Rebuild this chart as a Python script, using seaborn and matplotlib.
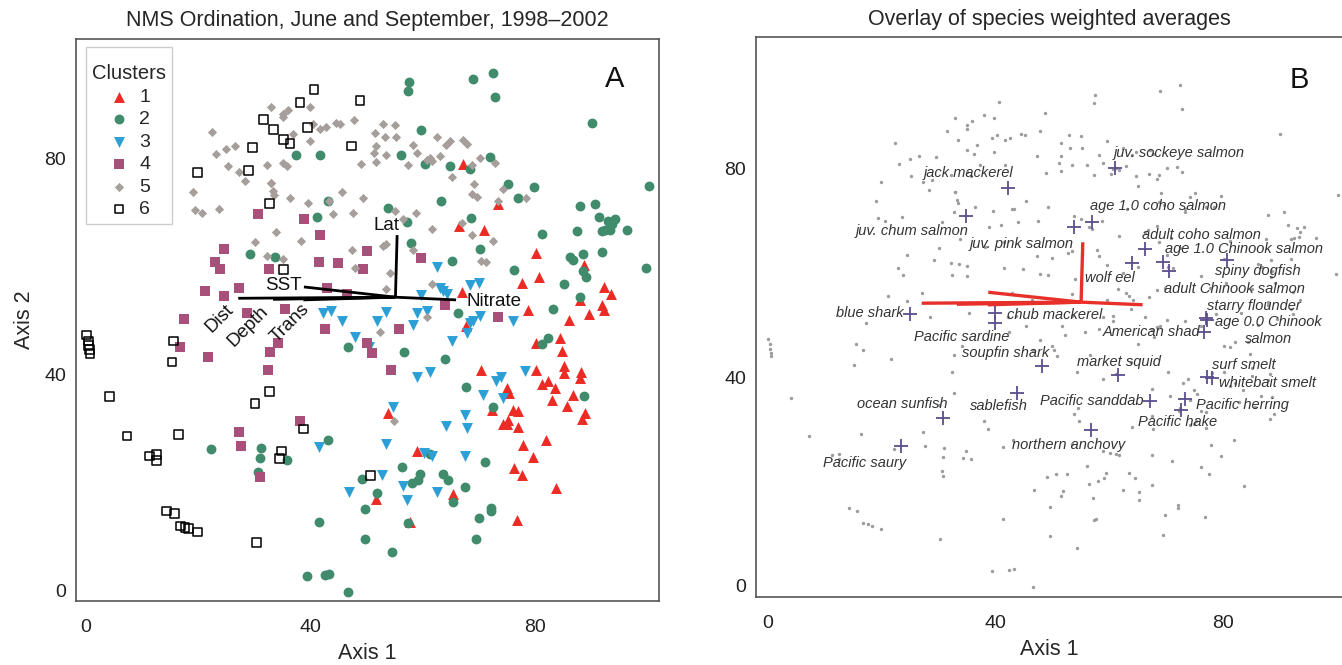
import numpy as np
import pandas as pd
import matplotlib
matplotlib.use("Agg")
import matplotlib.pyplot as plt
from matplotlib.offsetbox import DrawingArea, VPacker
import seaborn as sns

# ---------------- data ----------------
c1_x = [67.1, 66.4, 67.0, 73.4, 70.9, 80.2, 88.6, 80.6, 77.7, 92.3, 93.5, 87.9, 91.9, 92.3, 78.8, 89.5, 86.1,
        53.8, 58.9, 51.6, 65.3, 57.7, 67.6, 84.4, 84.7, 80.2, 70.3, 80.2, 85.2, 85.2, 88.2, 88.0, 75.0, 75.4,
        81.2, 82.2, 83.5, 86.7, 82.9, 85.6, 76.1, 77.0, 72.3, 74.2, 75.2, 74.9, 77.0, 88.9, 88.3, 77.9, 81.9,
        79.6, 76.2, 77.6, 83.7, 76.8]
c1_y = [79.0, 67.6, 55.4, 71.7, 66.8, 62.6, 60.4, 58.1, 57.1, 56.3, 54.9, 53.8, 53.0, 52.1, 52.1, 51.2, 50.1,
        32.9, 25.9, 17.1, 17.9, 12.8, 49.0, 46.8, 44.4, 45.9, 41.0, 41.0, 41.7, 40.3, 40.6, 39.4, 37.5, 36.7,
        38.3, 38.9, 37.6, 36.3, 35.3, 34.2, 33.5, 33.4, 33.5, 30.9, 31.6, 31.0, 30.3, 33.0, 31.9, 27.0, 27.9,
        24.8, 22.8, 21.4, 19.1, 13.2]

c2_x = [29.2, 33.6, 57.6, 57.3, 59.6, 37.4, 41.7, 56.1, 60.3, 64.8, 63.2, 43.0, 41.1, 53.8, 57.1, 57.9, 65.1, 66.3,
        69.0, 72.4, 72.9, 90.1, 72.0, 68.4, 75.1, 79.7, 77.0, 100.2, 87.9, 90.7, 91.4, 93.0, 94.2, 93.6, 93.3,
        92.5, 91.9, 96.3, 87.5, 81.2, 68.5, 70.2, 91.9, 88.5, 86.2, 86.8, 88.5, 89.1, 99.8, 76.2, 85.2, 87.9, 83.1,
        22.2, 31.1, 30.9, 30.6,
        46.6, 56.7, 63.9, 67.6, 43.1, 35.8, 61.3, 56.2, 59.5, 59.2, 58.0, 63.6, 64.5, 49.1, 67.5, 51.9, 65.3,
        49.7, 57.4, 41.4, 49.7, 54.4, 39.4, 42.5, 43.3, 46.7,
        82.2, 81.2, 88.6, 72.4, 71.1, 72.1, 72.1, 69.9, 69.4]
c2_y = [62.4, 61.8, 94.2, 92.6, 85.4, 80.7, 80.7, 80.7, 79.0, 78.7, 72.2, 72.3, 69.2, 71.0, 68.4, 64.5, 61.1, 51.5,
        94.9, 96.0, 91.4, 86.7, 80.4, 78.1, 75.3, 74.8, 72.7, 75.0, 71.2, 71.7, 69.3, 68.6, 68.8, 67.9, 66.9,
        66.8, 66.6, 66.8, 66.6, 66.1, 69.1, 63.4, 62.7, 62.4, 61.8, 61.2, 59.2, 58.1, 59.8, 59.5, 56.9, 54.4, 52.3,
        26.2, 26.4, 24.7, 22.0,
        45.2, 44.2, 42.9, 37.8, 27.9, 24.2, 25.3, 22.9, 21.6, 20.6, 20.0, 21.6, 20.6, 20.8, 19.3, 18.1, 16.5,
        15.1, 12.6, 12.8, 9.6, 7.2, 2.7, 2.9, 3.1, -0.2,
        46.8, 45.7, 36.1, 34.0, 23.9, 15.4, 14.8, 13.5, 9.7]

c3_x = [62.5, 63.0, 63.6, 64.2, 59.7, 42.2, 43.7, 45.5, 53.5, 51.8, 58.9, 60.7, 58.3,
        68.4, 69.9, 70.2, 69.0, 68.4, 76.1,
        47.9, 50.4, 65.1, 58.9, 61.2, 54.6, 64.1, 67.5, 67.8, 41.4, 53.5, 60.1, 61.7, 67.5, 52.7, 46.9, 56.4,
        57.2, 62.5,
        67.9, 78.1, 73.9, 73.0, 70.7, 74.2]
c3_y = [60.0, 56.1, 55.5, 54.9, 54.8, 51.5, 51.8, 49.9, 51.7, 49.9, 51.5, 51.8, 49.3,
        56.7, 57.1, 50.9, 49.9, 49.6, 49.9,
        47.1, 45.2, 46.3, 39.7, 40.6, 34.0, 30.5, 32.6, 30.1, 26.6, 27.2, 25.5, 25.0, 25.0, 21.4, 18.3, 19.4,
        16.9, 18.3,
        47.7, 40.8, 39.7, 38.9, 36.3, 35.7]

c4_x = [30.7, 24.5, 22.9, 23.8, 32.5, 27.2, 21.1, 24.5, 17.4, 28.6,
        38.9, 41.6, 41.5, 44.9, 50.0, 49.3, 59.7, 42.9, 46.4, 35.4, 63.9, 73.3,
        16.8, 21.7, 32.7, 32.4, 27.3, 27.6, 30.9,
        42.5, 34.2, 50.0, 50.9, 55.8, 54.3, 38.1]
c4_y = [69.8, 63.4, 60.9, 59.6, 59.7, 56.1, 55.5, 54.6, 50.4, 51.5,
        68.8, 66.0, 60.9, 60.8, 62.9, 59.7, 61.6, 56.1, 54.9, 52.3, 53.0, 50.7,
        45.2, 43.4, 44.3, 41.0, 29.4, 26.8, 21.1,
        48.6, 45.9, 46.0, 44.0, 48.6, 41.0, 31.5]

c5_x = [22.4, 23.2, 25.0, 26.6, 25.2, 27.3, 28.3, 32.3, 32.9, 19.1, 19.4, 20.6, 23.6, 30.1, 32.2,
        32.9, 35.1, 35.9, 39.8, 35.0, 40.4, 41.7, 42.7, 44.5, 45.2, 47.8, 36.8, 39.8, 51.5, 52.9, 55.0,
        53.2, 55.2, 51.6, 51.3, 53.5, 58.2, 58.9, 62.5, 64.8, 64.1, 61.3, 60.7, 61.7, 63.0, 67.2, 65.1,
        48.9, 51.6, 57.4, 35.1, 35.7, 32.9, 33.3, 33.5, 36.4, 39.6, 45.5, 43.3, 49.3, 44.0, 47.6, 55.0,
        56.5, 58.8, 61.7, 33.9, 38.2, 47.3, 52.8, 53.5, 58.2, 47.9, 54.1, 53.5, 61.6, 35.1, 60.7,
        67.8, 70.1, 72.8, 68.7, 69.1, 68.7, 69.6, 74.3, 78.4, 73.4, 66.9, 68.7, 72.5, 70.3, 71.2,
        52.3, 54.8]
c5_y = [85.0, 81.0, 81.9, 82.4, 78.7, 77.5, 75.9, 78.8, 75.5, 73.9, 70.5, 70.0, 70.8, 64.7, 62.0,
        89.7, 88.4, 89.1, 89.7, 87.7, 86.5, 85.5, 85.9, 86.7, 86.5, 87.3, 84.6, 83.3, 84.9, 86.4, 86.3,
        84.0, 84.0, 82.4, 81.2, 80.7, 82.6, 81.2, 84.0, 83.3, 82.6, 80.2, 79.9, 79.7, 80.5, 83.6, 76.7,
        79.1, 79.5, 78.9, 79.3, 78.7, 75.6, 74.1, 73.4, 72.7, 71.9, 73.9, 72.2, 72.7, 69.8, 70.0, 70.3,
        68.9, 70.0, 67.1, 66.5, 64.9, 63.2, 63.9, 64.3, 63.2, 59.8, 58.9, 56.0, 56.9, 61.4, 50.8,
        82.8, 80.1, 79.3, 78.9, 75.4, 73.6, 73.0, 74.5, 72.7, 72.2, 68.2, 65.9, 64.8, 61.1, 60.9,
        48.0, 31.5]

c6_x = [31.6, 33.4, 29.7, 19.9, 28.9, 32.7,
        40.6, 38.1, 48.8, 39.5, 35.1, 36.3, 47.3, 35.1,
        0.1, 0.4, 0.4, 0.6, 0.7, 15.6, 15.3, 4.1, 7.3, 16.5, 11.3, 12.6, 12.6, 14.3, 15.8, 16.8, 17.6, 18.3,
        19.9, 30.4, 32.7, 30.1,
        38.7, 34.8, 34.4, 50.7]
c6_y = [87.3, 85.5, 82.2, 77.5, 77.8, 71.7,
        92.9, 90.4, 90.8, 85.9, 83.6, 82.8, 82.4, 59.5,
        47.4, 46.3, 45.5, 44.7, 44.0, 46.3, 42.4, 36.0, 28.7, 29.0, 25.0, 25.2, 24.2, 14.8, 14.3, 12.0, 11.8, 11.5,
        10.9, 8.9, 37.0, 34.7,
        30.0, 25.9, 24.5, 21.4]

cluster_labels = ["1", "2", "3", "4", "5", "6"]

# environmental vectors (joint plot): origin and tips
vec_origin = (55.1, 54.4)
vec_names = ["Lat", "SST", "Dist", "Depth", "Trans", "Nitrate"]
vec_x = [55.4, 38.8, 27.1, 33.3, 38.7, 65.9]
vec_y = [65.9, 56.3, 54.2, 54.0, 53.9, 53.9]

# species weighted averages (panel B)
species = ["juv. sockeye salmon", "jack mackerel", "juv. chum salmon", "age 1.0 coho salmon",
           "juv. pink salmon", "adult coho salmon", "age 1.0 Chinook salmon", "spiny dogfish",
           "wolf eel", "adult Chinook salmon", "starry flounder", "age 0.0 Chinook\nsalmon",
           "blue shark", "chub mackerel", "Pacific sardine", "American shad", "soupfin shark",
           "market squid", "surf smelt", "whitebait smelt", "sablefish", "ocean sunfish",
           "Pacific sanddab", "Pacific herring", "Pacific hake", "northern anchovy", "Pacific saury"]
sp_x = [61.1, 42.2, 34.8, 57.0, 53.8, 66.4, 69.5, 80.7, 64.1, 70.5, 77.0, 77.3, 25.1, 39.9, 39.9,
        76.7, 48.2, 61.6, 77.3, 78.1, 43.8, 30.9, 67.2, 73.3, 72.6, 56.9, 23.4]
sp_y = [80.1, 76.3, 71.0, 69.7, 68.9, 64.6, 62.2, 62.5, 62.0, 60.3, 51.3, 50.9, 52.1, 52.4, 50.4,
        48.6, 42.2, 40.4, 40.1, 39.8, 36.9, 32.1, 35.5, 35.8, 33.7, 29.9, 26.7]
# label anchor positions
lab_x = [60.8, 35.4, 25.5, 56.7, 53.8, 65.8, 69.9, 78.7, 64.6, 69.6, 77.3, 78.7, 23.9, 42.1, 34.2,
         76.1, 41.9, 61.7, 78.1, 79.3, 40.6, 23.6, 66.1, 75.2, 72.1, 52.9, 17.0]
lab_y = [83.1, 79.2, 68.1, 72.9, 65.6, 67.3, 64.6, 60.3, 59.0, 56.9, 53.6, 48.9, 52.3, 52.0, 47.8,
         48.6, 44.7, 43.0, 42.4, 38.8, 34.5, 34.9, 35.5, 34.7, 31.3, 27.0, 23.6]
lab_ha = ["left", "center", "center", "left", "right", "left", "left", "left", "right", "left", "left",
          "left", "right", "left", "center", "right", "center", "center", "left", "left", "center",
          "center", "right", "left", "center", "center", "center"]

ticks = [0, 20, 40, 60, 80, 100]
tick_labels = ["0", "", "40", "", "80", ""]

# ---------------- styling ----------------
sns.set_theme(style="white")
plt.rcParams["font.family"] = ["Liberation Sans", "DejaVu Sans"]

colors = {"1": "#ec2b25", "2": "#3f8b6c", "3": "#2b9fd6", "4": "#a85079", "5": "#a69e9b", "6": "black"}
markers = {"1": "^", "2": "o", "3": "v", "4": "s", "5": "D", "6": "s"}
sizes = {"1": 62, "2": 50, "3": 62, "4": 46, "5": 22, "6": 40}

xs = [c1_x, c2_x, c3_x, c4_x, c5_x, c6_x]
ys = [c1_y, c2_y, c3_y, c4_y, c5_y, c6_y]
df = pd.concat([pd.DataFrame({"x": x, "y": y, "cluster": c}) for x, y, c in zip(xs, ys, cluster_labels)],
               ignore_index=True)

fig = plt.figure(figsize=(13.42, 6.65), dpi=100)
axA = fig.add_axes([76 / 1342, 1 - 601.4 / 665, (659.3 - 76) / 1342, (601.4 - 38.6) / 665])
axB = fig.add_axes([756 / 1342, 1 - 597 / 665, (1343 - 756) / 1342, (597 - 37) / 665])

spine_col = "#555555"
for ax in (axA, axB):
    for s in ax.spines.values():
        s.set_color(spine_col)
        s.set_linewidth(1.2)
    ax.set_xticks(ticks)
    ax.set_yticks(ticks)
    ax.set_xticklabels(tick_labels)
    ax.set_yticklabels(tick_labels)
    ax.tick_params(axis="both", direction="out", length=4, width=1, color=spine_col,
                   labelsize=14, labelcolor="#222222")
    ax.tick_params(axis="x", pad=9)
    ax.tick_params(axis="y", pad=3)

# ---------------- Panel A ----------------
for c in cluster_labels:
    sub = df[df["cluster"] == c]
    if c == "6":
        sns.scatterplot(data=sub, x="x", y="y", ax=axA, marker="s", s=sizes[c], color="black",
                        linewidth=1.1, label=c, zorder=3)
        axA.collections[-1].set_facecolor("none")
        axA.collections[-1].set_edgecolor("black")
    else:
        sns.scatterplot(data=sub, x="x", y="y", ax=axA, marker=markers[c], s=sizes[c],
                        color=colors[c], linewidth=0, label=c, zorder=3)

for name, vx, vy in zip(vec_names, vec_x, vec_y):
    axA.plot([vec_origin[0], vx], [vec_origin[1], vy], color="black", lw=2.0, zorder=4,
             solid_capstyle="butt")

txt_kw = dict(fontsize=13.5, color="#111111", zorder=5)
axA.text(53.5, 67.6, "Lat", ha="center", va="center", **txt_kw)
axA.text(35.1, 56.6, "SST", ha="center", va="center", **txt_kw)
axA.text(67.7, 53.6, "Nitrate", ha="left", va="center", **txt_kw)
axA.text(23.8, 50.5, "Dist", ha="center", va="center", rotation=45, **txt_kw)
axA.text(28.9, 49.0, "Depth", ha="center", va="center", rotation=45, **txt_kw)
axA.text(36.3, 49.6, "Trans", ha="center", va="center", rotation=45, **txt_kw)
axA.text(94.2, 94.8, "A", ha="center", va="center", fontsize=21, color="#111111")

axA.set_xlim(-1.8, 102.1)
axA.set_ylim(-1.95, 102.3)
axA.set_xlabel("Axis 1", fontsize=15.5, labelpad=5)
axA.set_ylabel("Axis 2", fontsize=15.5, labelpad=7)
axA.set_title("NMS Ordination, June and September, 1998\u20132002", fontsize=15.5, pad=9)

leg = axA.legend(title="Clusters", loc="upper left", bbox_to_anchor=(10 / 583.3, 1 - 8.7 / 562.8),
                 borderaxespad=0, fontsize=14, title_fontsize=14.5, frameon=True, fancybox=False,
                 edgecolor="#cccccc", framealpha=1, alignment="center", borderpad=0.3,
                 handlelength=1.2, handletextpad=0.45, labelspacing=0.25)
leg.get_frame().set_linewidth(1.0)
# a little extra room above the legend title, as in the reference
try:
    spacer = DrawingArea(1, 8)
    leg._legend_box._children[0] = VPacker(children=[spacer, leg._legend_title_box],
                                           pad=0, sep=0, align="center")
except Exception:
    pass

# ---------------- Panel B ----------------
sns.scatterplot(data=df, x="x", y="y", ax=axB, color="#9c9c9c", s=6, linewidth=0, legend=False, zorder=2)
for name, vx, vy in zip(vec_names, vec_x, vec_y):
    axB.plot([vec_origin[0], vx], [vec_origin[1], vy], color="#e8302a", lw=2.4, zorder=3,
             solid_capstyle="butt")
sp_df = pd.DataFrame({"x": sp_x, "y": sp_y, "species": species})
sns.scatterplot(data=sp_df, x="x", y="y", ax=axB, marker="+", s=110, color="#5d4e8c", linewidth=1.3,
                legend=False, zorder=4)
for name, lx, ly, ha in zip(species, lab_x, lab_y, lab_ha):
    axB.text(lx, ly, name, ha=ha, va="center", fontsize=10.5, style="italic", color="#333333",
             multialignment="center", zorder=5, linespacing=1.25)
axB.text(93.4, 97.0, "B", ha="center", va="center", fontsize=21, color="#111111")

axB.set_xlim(-2.0, 101.1)
axB.set_ylim(-2.2, 105.3)
axB.set_xlabel("Axis 1", fontsize=15.5, labelpad=5)
axB.set_ylabel("")
axB.set_title("Overlay of species weighted averages", fontsize=15.5, pad=9)

fig.savefig("out.png", dpi=100)
